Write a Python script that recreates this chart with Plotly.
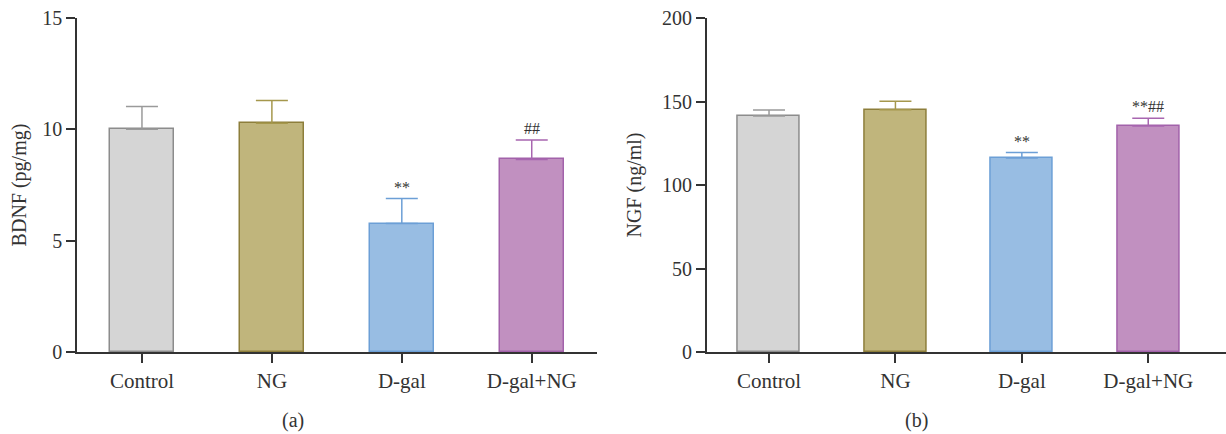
import plotly.graph_objects as go

groups = ["Control", "NG", "D-gal", "D-gal+NG"]
bdnf_mean = [10.0, 10.27, 5.77, 8.65]
bdnf_err = [1.02, 1.03, 1.12, 0.87]
bdnf_marks = ["", "", "**", "##"]
ngf_mean = [141.3, 145.1, 116.2, 135.3]
ngf_err = [3.6, 5.0, 3.2, 4.6]
ngf_marks = ["", "", "**", "**##"]

fills = ["#d5d5d5", "#c0b57c", "#98bde3", "#c190c0"]
edges = ["#8c8c8c", "#8d7e3b", "#6c9fd6", "#a262aa"]
errc = ["#9a9a9a", "#a5974c", "#6c9fd6", "#a866b0"]

FONT = "Liberation Serif"
W, H = 1226, 434

fig = go.Figure()

def add_panel(means, errs, marks, xa, ya):
    for i, g in enumerate(groups):
        fig.add_trace(go.Bar(
            x=[g], y=[means[i]], width=0.49,
            marker=dict(color=fills[i], line=dict(color=edges[i], width=1.5)),
            error_y=dict(type="data", array=[errs[i]], arrayminus=[0], symmetric=False,
                         color=errc[i], thickness=1.5, width=16),
            xaxis=xa, yaxis=ya, showlegend=False, hoverinfo="skip"))
        if marks[i]:
            fig.add_annotation(x=g, y=means[i] + errs[i], xref=xa, yref=ya,
                               text=marks[i], showarrow=False, yanchor="bottom",
                               yshift=1, font=dict(family=FONT, size=16, color="#333333"))

add_panel(bdnf_mean, bdnf_err, bdnf_marks, "x", "y")
add_panel(ngf_mean, ngf_err, ngf_marks, "x2", "y2")

ybot = (H - 352) / H
ytop = (H - 18) / H

axis_common = dict(showline=True, linecolor="#333333", linewidth=1.5, ticks="outside",
                   ticklen=9, tickwidth=1.5, tickcolor="#333333", showgrid=False,
                   zeroline=False, automargin=False)
yfont = dict(family=FONT, size=20, color="#333333")
xfont = dict(family=FONT, size=21, color="#333333")
tfont = dict(family=FONT, size=20, color="#333333")

fig.update_layout(
    width=W, height=H, margin=dict(l=0, r=0, t=0, b=0, autoexpand=False),
    plot_bgcolor="white", paper_bgcolor="white", bargap=0,
    xaxis=dict(domain=[77 / W, 596.7 / W], range=[-0.5, 3.5], anchor="y",
               categoryorder="array", categoryarray=groups, tickfont=xfont, **axis_common),
    yaxis=dict(domain=[ybot, ytop], range=[0, 15], tickvals=[0, 5, 10, 15], anchor="x",
               tickfont=yfont,
               title=dict(text="BDNF (pg/mg)", font=tfont, standoff=10),
               **axis_common),
    xaxis2=dict(domain=[706.7 / W, 1.0], range=[-0.493, 3.615], anchor="y2",
                categoryorder="array", categoryarray=groups, tickfont=xfont, **axis_common),
    yaxis2=dict(domain=[ybot, ytop], range=[0, 200], tickvals=[0, 50, 100, 150, 200], anchor="x2",
                tickfont=yfont,
                title=dict(text="NGF (ng/ml)", font=tfont, standoff=15),
                **axis_common),
)

fig.add_annotation(x=293 / W, y=(H - 420) / H, xref="paper", yref="paper", text="(a)",
                   xanchor="center", yanchor="middle",
                   showarrow=False, font=dict(family=FONT, size=20, color="#333333"))
fig.add_annotation(x=917 / W, y=(H - 420) / H, xref="paper", yref="paper", text="(b)",
                   xanchor="center", yanchor="middle",
                   showarrow=False, font=dict(family=FONT, size=20, color="#333333"))

fig.write_html("out.html")
